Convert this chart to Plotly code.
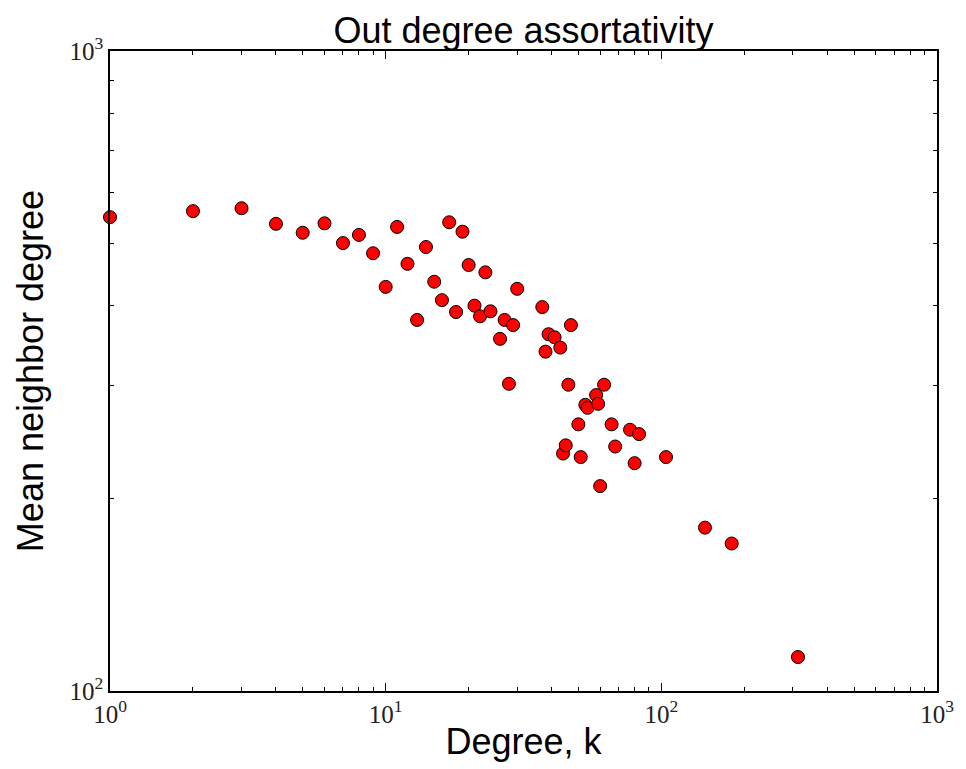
import plotly.graph_objects as go

# Degree k and mean neighbor degree
degree = [1, 2, 3, 4, 5, 6, 7, 8, 9, 10, 11, 12, 13, 14, 15, 16, 17, 18, 19, 20,
          21, 22, 23, 24, 26, 27, 28, 29, 30, 37, 38, 39, 41, 43, 44, 45, 46, 47,
          50, 51, 53, 54, 58, 59, 60, 62, 66, 68, 77, 80, 83, 104, 144, 180, 313]
mean_nbr = [550, 562, 568, 537, 520, 538, 501, 516, 483, 428, 531, 465, 380, 494, 436, 408, 540, 391, 522, 463,
            400, 385, 451, 392, 355, 380, 302, 373, 425, 398, 339, 361, 357, 344, 235, 242, 301, 373,
            261, 232, 280, 277, 290, 281, 209, 301, 261, 241, 256, 227, 252, 232, 180, 170, 113]

x_ticks = [1, 10, 100, 1000]
x_ticktext = ["10<sup>0</sup>", "10<sup>1</sup>", "10<sup>2</sup>", "10<sup>3</sup>"]
y_ticks = [100, 1000]
y_ticktext = ["10<sup>2</sup>", "10<sup>3</sup>"]

x_minor = [m * d for d in (1, 10, 100) for m in range(2, 10)]
y_minor = [m * 100 for m in range(2, 10)]

fig = go.Figure()
fig.add_trace(go.Scatter(
    x=degree, y=mean_nbr, mode="markers",
    marker=dict(color="#ff0000", size=13, line=dict(color="black", width=1)),
    cliponaxis=False, showlegend=False,
))

axis_common = dict(
    type="log", showgrid=False, zeroline=False, showline=True, linecolor="black",
    linewidth=1.5, mirror="ticks", ticks="inside", ticklen=8, tickwidth=1, tickcolor="black",
    tickfont=dict(family="Liberation Serif", size=25, color="#222"),
)

fig.update_xaxes(
    **axis_common, range=[0, 3], tickmode="array", tickvals=x_ticks, ticktext=x_ticktext,
    minor=dict(tickmode="array", tickvals=x_minor, ticks="inside", ticklen=4, tickwidth=1,
               tickcolor="black", showgrid=False),
    title=dict(text="Degree, k", font=dict(family="Liberation Sans", size=36, color="black"), standoff=2),
)
fig.update_yaxes(
    **axis_common, range=[2, 3], tickmode="array", tickvals=y_ticks, ticktext=y_ticktext,
    minor=dict(tickmode="array", tickvals=y_minor, ticks="inside", ticklen=4, tickwidth=1,
               tickcolor="black", showgrid=False),
    title=dict(text="Mean neighbor degree", font=dict(family="Liberation Sans", size=36, color="black"), standoff=15),
)

fig.update_layout(
    width=966, height=769,
    margin=dict(l=102, r=37, t=43, b=86),
    paper_bgcolor="white", plot_bgcolor="white",
    title=dict(text="Out degree assortativity", x=(102 + 413.5) / 966, xanchor="center",
               y=0.971, yanchor="middle",
               font=dict(family="Liberation Sans", size=36, color="black")),
)

fig.write_html("out.html")
